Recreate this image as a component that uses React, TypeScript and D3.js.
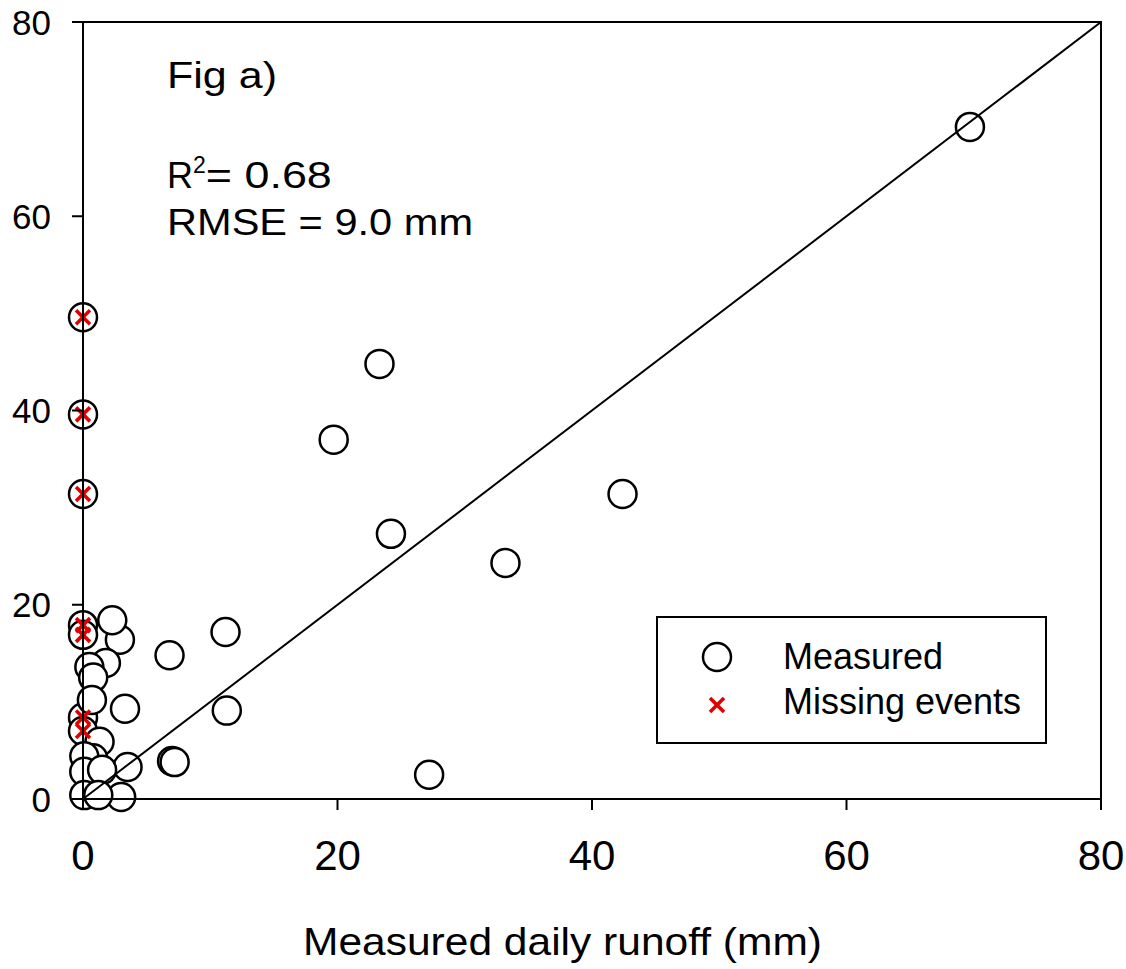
import React from 'react';
import * as d3 from 'd3';

// measured vs simulated daily runoff (mm)
const measuredX = [69.7, 23.3, 19.7, 42.4, 24.2, 33.2, 11.2, 6.8, 11.3, 27.2, 7.0, 7.2, 3.5, 3.3, 2.9, 2.3, 1.8, 3.0,
  0, 0, 0, 0, 0, 0, 0,
  0.5, 0.8, 0.7, 1.3, 0.8, 0.1, 0.1, 1.5, 0.1, 1.2];
const measuredY = [69.2, 44.8, 37.0, 31.4, 27.3, 24.3, 17.2, 14.8, 9.1, 2.5, 3.9, 3.8, 3.3, 9.3, 16.4, 18.4, 14.0, 0.2,
  49.6, 39.6, 31.4, 17.9, 16.9, 8.4, 7.0,
  13.6, 12.5, 10.2, 5.9, 4.2, 4.4, 2.8, 3.0, 0.4, 0.4];

const missingX = [0, 0, 0, 0, 0, 0, 0];
const missingY = [49.6, 39.6, 31.4, 17.9, 16.9, 8.4, 7.0];

const ticks = [0, 20, 40, 60, 80];

const FONT = "'Liberation Sans', Arial, sans-serif";
const RED = '#e00000';

function Cross({ cx, cy, s = 7 }: { cx: number; cy: number; s?: number }) {
  return (
    <g stroke={RED} strokeWidth={3.6}>
      <line x1={cx - s} y1={cy - s} x2={cx + s} y2={cy + s} />
      <line x1={cx - s} y1={cy + s} x2={cx + s} y2={cy - s} />
    </g>
  );
}

export default function App() {
  const left = 83, right = 1101, top = 22, bottom = 799;
  const x = d3.scaleLinear().domain([0, 80]).range([left, right]);
  const y = d3.scaleLinear().domain([0, 80]).range([bottom, top]);

  const diag = d3.line<number>().x(d => x(d)).y(d => y(d))([0, 80]) || '';

  return (
    <svg width={1126} height={969} style={{ position: 'absolute', left: 0, top: 0 }} fontFamily={FONT}>
      <rect width={1126} height={969} fill="#fff" />

      {measuredX.map((v, i) => (
        <circle key={i} cx={x(v)} cy={y(measuredY[i])} r={14} fill="#fff" stroke="#000" strokeWidth={2.5} />
      ))}

      <path d={diag} stroke="#000" strokeWidth={2} fill="none" />

      {missingX.map((v, i) => (
        <Cross key={i} cx={x(v)} cy={y(missingY[i])} />
      ))}

      {/* frame */}
      <rect x={left} y={top} width={right - left} height={bottom - top} fill="none" stroke="#000" strokeWidth={2} />

      {ticks.map(t => (
        <g key={'y' + t}>
          <line x1={left - 11} x2={left} y1={y(t)} y2={y(t)} stroke="#000" strokeWidth={2} />
          <text x={51} y={y(t) + 12.5} textAnchor="end" fontSize={35}>{t}</text>
        </g>
      ))}
      {ticks.map(t => (
        <g key={'x' + t}>
          <line x1={x(t)} x2={x(t)} y1={bottom} y2={bottom + 11} stroke="#000" strokeWidth={2} />
          <text x={x(t)} y={870} textAnchor="middle" fontSize={42}>{t}</text>
        </g>
      ))}

      <text x={303} y={955} fontSize={39} textLength={519} lengthAdjust="spacingAndGlyphs">Measured daily runoff (mm)</text>

      <text x={167} y={88} fontSize={36} textLength={110} lengthAdjust="spacingAndGlyphs">Fig a)</text>
      <text x={167} y={188} fontSize={36}>
        <tspan>R</tspan>
        <tspan fontSize={23} dy={-15}>2</tspan>
        <tspan dy={15} textLength={126} lengthAdjust="spacingAndGlyphs">= 0.68</tspan>
      </text>
      <text x={167} y={235} fontSize={36} textLength={306} lengthAdjust="spacingAndGlyphs">RMSE = 9.0 mm</text>

      {/* legend */}
      <rect x={657} y={617} width={389} height={126} fill="#fff" stroke="#000" strokeWidth={2} />
      <circle cx={717} cy={657} r={14} fill="#fff" stroke="#000" strokeWidth={2.5} />
      <Cross cx={717} cy={705} />
      <text x={783} y={669} fontSize={36}>Measured</text>
      <text x={783} y={714} fontSize={36}>Missing events</text>
    </svg>
  );
}
